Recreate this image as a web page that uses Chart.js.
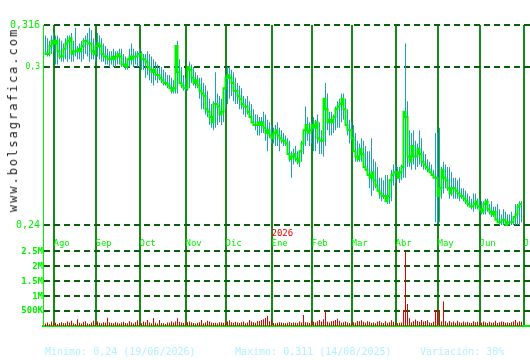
<!DOCTYPE html>
<html>
<head>
<meta charset="utf-8">
<script src="https://cdn.jsdelivr.net/npm/chart.js@4.4.1/dist/chart.umd.min.js"></script>
<style>
  body { margin: 0; background: #fff; }
  #wrap { position: relative; width: 530px; height: 360px; overflow: hidden; background: #fff; }
  #chart { position: absolute; left: 0; top: 0; }
  .foot { position: absolute; top: 346px; font: 10px 'DejaVu Sans Mono', monospace; color: #b4f0ff; white-space: pre; }
  #web { position: absolute; left: 13px; top: 120px; transform: translate(-50%, -50%) rotate(-90deg);
         font: 12px 'DejaVu Sans Mono', monospace; letter-spacing: 2px; color: #222; white-space: nowrap; }
</style>
</head>
<body>
<div id="wrap">
  <canvas id="chart" width="530" height="360"></canvas>
  <div id="web">www.bolsagrafica.com</div>
  <div class="foot" style="left:45px">Minimo: 0,24 (19/06/2026)</div>
  <div class="foot" style="left:235px">Maximo: 0,311 (14/08/2025)</div>
  <div class="foot" style="left:420px">Variación: 30%</div>
</div>
<script>
// month labels and the trading-day index where each month starts
const monthLabels = ['Ago', 'Sep', 'Oct', 'Nov', 'Dic', 'Ene', 'Feb', 'Mar', 'Abr', 'May', 'Jun', 'Jul'];
const monthStart = [4, 25, 47, 70, 90, 113, 133, 153, 175, 196, 217, 239];
const priceTicks = [0.316, 0.3, 0.24];
const volumeTicks = [500, 1000, 1500, 2000, 2500];
const volumeTickLabels = ['500K', '1M', '1.5M', '2M', '2.5M'];

// daily prices (EUR), 28/07/2025 .. 30/06/2026
const closes = [
  0.306, 0.305, 0.305, 0.308, 0.310, 0.309, 0.310, 0.306, 0.304, 0.304,
  0.307, 0.309, 0.310, 0.311, 0.305, 0.306, 0.306, 0.307, 0.306, 0.308,
  0.310, 0.310, 0.309, 0.309, 0.306, 0.305, 0.308, 0.309, 0.308, 0.305,
  0.304, 0.304, 0.303, 0.303, 0.304, 0.303, 0.304, 0.305, 0.304, 0.301,
  0.301, 0.300, 0.303, 0.304, 0.303, 0.304, 0.304, 0.305, 0.305, 0.303,
  0.303, 0.302, 0.300, 0.299, 0.298, 0.299, 0.297, 0.297, 0.296, 0.295,
  0.294, 0.294, 0.293, 0.292, 0.291, 0.292, 0.308, 0.298, 0.294, 0.293,
  0.292, 0.292, 0.300, 0.299, 0.296, 0.294, 0.295, 0.293, 0.291, 0.290,
  0.289, 0.284, 0.283, 0.281, 0.279, 0.286, 0.286, 0.285, 0.282, 0.283,
  0.292, 0.296, 0.297, 0.296, 0.294, 0.291, 0.291, 0.289, 0.288, 0.286,
  0.285, 0.285, 0.283, 0.281, 0.279, 0.278, 0.278, 0.279, 0.278, 0.279,
  0.277, 0.275, 0.276, 0.274, 0.273, 0.275, 0.276, 0.274, 0.273, 0.272,
  0.272, 0.271, 0.267, 0.265, 0.266, 0.267, 0.265, 0.264, 0.268, 0.271,
  0.276, 0.278, 0.275, 0.276, 0.278, 0.277, 0.279, 0.273, 0.272, 0.272,
  0.288, 0.284, 0.279, 0.280, 0.279, 0.281, 0.284, 0.285, 0.286, 0.288,
  0.284, 0.278, 0.276, 0.276, 0.273, 0.268, 0.266, 0.265, 0.269, 0.267,
  0.262, 0.261, 0.259, 0.258, 0.260, 0.257, 0.255, 0.253, 0.252, 0.251,
  0.251, 0.249, 0.251, 0.257, 0.259, 0.260, 0.260, 0.258, 0.260, 0.262,
  0.283, 0.281, 0.266, 0.264, 0.270, 0.266, 0.266, 0.269, 0.267, 0.264,
  0.263, 0.262, 0.261, 0.260, 0.259, 0.258, 0.258, 0.251, 0.254, 0.261,
  0.258, 0.257, 0.254, 0.252, 0.254, 0.254, 0.253, 0.252, 0.251, 0.251,
  0.250, 0.249, 0.248, 0.247, 0.247, 0.248, 0.249, 0.247, 0.246, 0.245,
  0.248, 0.249, 0.246, 0.245, 0.244, 0.245, 0.242, 0.241, 0.241, 0.242,
  0.242, 0.240, 0.241, 0.241, 0.241, 0.243, 0.244, 0.247, 0.248
];
const highs = [
  0.312, 0.311, 0.310, 0.312, 0.313, 0.312, 0.312, 0.311, 0.310, 0.309,
  0.311, 0.312, 0.312, 0.313, 0.310, 0.315, 0.308, 0.309, 0.310, 0.311,
  0.312, 0.313, 0.315, 0.314, 0.311, 0.310, 0.313, 0.312, 0.311, 0.309,
  0.308, 0.307, 0.306, 0.306, 0.307, 0.306, 0.306, 0.307, 0.307, 0.305,
  0.304, 0.303, 0.307, 0.309, 0.307, 0.306, 0.306, 0.307, 0.306, 0.305,
  0.305, 0.306, 0.305, 0.304, 0.303, 0.302, 0.301, 0.300, 0.300, 0.299,
  0.298, 0.297, 0.297, 0.296, 0.295, 0.296, 0.310, 0.303, 0.300, 0.297,
  0.296, 0.297, 0.302, 0.301, 0.300, 0.298, 0.297, 0.296, 0.296, 0.294,
  0.293, 0.291, 0.288, 0.286, 0.287, 0.298, 0.290, 0.289, 0.288, 0.290,
  0.297, 0.300, 0.300, 0.299, 0.298, 0.296, 0.294, 0.293, 0.292, 0.289,
  0.288, 0.289, 0.287, 0.286, 0.284, 0.282, 0.282, 0.281, 0.281, 0.283,
  0.282, 0.280, 0.279, 0.278, 0.277, 0.278, 0.279, 0.277, 0.276, 0.275,
  0.274, 0.273, 0.272, 0.268, 0.269, 0.270, 0.268, 0.267, 0.272, 0.274,
  0.285, 0.281, 0.279, 0.279, 0.281, 0.280, 0.282, 0.279, 0.276, 0.280,
  0.294, 0.290, 0.283, 0.283, 0.282, 0.285, 0.287, 0.288, 0.290, 0.290,
  0.288, 0.284, 0.280, 0.279, 0.278, 0.275, 0.272, 0.271, 0.273, 0.272,
  0.270, 0.268, 0.268, 0.273, 0.265, 0.264, 0.262, 0.258, 0.258, 0.257,
  0.259, 0.259, 0.257, 0.261, 0.263, 0.263, 0.262, 0.262, 0.263, 0.264,
  0.309, 0.287, 0.276, 0.275, 0.276, 0.272, 0.271, 0.276, 0.273, 0.268,
  0.267, 0.265, 0.264, 0.263, 0.261, 0.275, 0.275, 0.277, 0.262, 0.264,
  0.263, 0.262, 0.262, 0.260, 0.258, 0.258, 0.257, 0.258, 0.254, 0.254,
  0.253, 0.252, 0.251, 0.250, 0.252, 0.252, 0.250, 0.250, 0.249, 0.249,
  0.250, 0.250, 0.248, 0.249, 0.247, 0.247, 0.248, 0.246, 0.244, 0.246,
  0.245, 0.244, 0.244, 0.245, 0.243, 0.248, 0.248, 0.249, 0.249
];
const lows = [
  0.305, 0.304, 0.304, 0.305, 0.306, 0.301, 0.301, 0.303, 0.302, 0.302,
  0.303, 0.302, 0.303, 0.302, 0.302, 0.304, 0.303, 0.303, 0.302, 0.303,
  0.305, 0.304, 0.302, 0.303, 0.303, 0.302, 0.304, 0.303, 0.302, 0.302,
  0.301, 0.301, 0.300, 0.301, 0.300, 0.300, 0.301, 0.301, 0.300, 0.300,
  0.299, 0.299, 0.300, 0.301, 0.300, 0.301, 0.300, 0.300, 0.299, 0.299,
  0.296, 0.297, 0.295, 0.294, 0.293, 0.295, 0.294, 0.295, 0.294, 0.293,
  0.293, 0.292, 0.292, 0.290, 0.290, 0.290, 0.290, 0.294, 0.292, 0.291,
  0.291, 0.291, 0.292, 0.294, 0.293, 0.292, 0.292, 0.288, 0.284, 0.284,
  0.282, 0.281, 0.278, 0.277, 0.276, 0.277, 0.278, 0.279, 0.278, 0.279,
  0.284, 0.286, 0.288, 0.289, 0.287, 0.286, 0.286, 0.284, 0.284, 0.282,
  0.281, 0.282, 0.281, 0.280, 0.279, 0.276, 0.274, 0.274, 0.275, 0.275,
  0.272, 0.268, 0.273, 0.271, 0.271, 0.270, 0.270, 0.268, 0.271, 0.270,
  0.270, 0.269, 0.264, 0.258, 0.263, 0.264, 0.263, 0.262, 0.264, 0.267,
  0.270, 0.272, 0.270, 0.271, 0.268, 0.268, 0.271, 0.267, 0.267, 0.266,
  0.270, 0.276, 0.274, 0.274, 0.275, 0.276, 0.277, 0.277, 0.279, 0.280,
  0.278, 0.274, 0.271, 0.272, 0.268, 0.264, 0.264, 0.264, 0.264, 0.262,
  0.261, 0.259, 0.254, 0.251, 0.253, 0.254, 0.254, 0.250, 0.249, 0.250,
  0.249, 0.248, 0.248, 0.249, 0.255, 0.256, 0.258, 0.256, 0.257, 0.258,
  0.258, 0.262, 0.262, 0.261, 0.263, 0.261, 0.262, 0.263, 0.262, 0.261,
  0.261, 0.260, 0.260, 0.259, 0.258, 0.241, 0.241, 0.241, 0.250, 0.252,
  0.254, 0.253, 0.250, 0.251, 0.250, 0.250, 0.250, 0.249, 0.250, 0.249,
  0.248, 0.247, 0.247, 0.246, 0.245, 0.246, 0.246, 0.245, 0.244, 0.244,
  0.244, 0.245, 0.244, 0.243, 0.243, 0.243, 0.241, 0.240, 0.240, 0.240,
  0.240, 0.240, 0.240, 0.240, 0.240, 0.240, 0.240, 0.240, 0.241
];
// daily volume, thousands of shares
const volumes = [
  80, 120, 60, 150, 90, 110, 70, 100, 130, 90,
  100, 150, 120, 180, 90, 70, 230, 110, 80, 140,
  160, 90, 70, 120, 180, 100, 150, 110, 90, 130,
  110, 280, 120, 100, 90, 130, 110, 80, 120, 140,
  100, 90, 160, 120, 80, 130, 190, 110, 90, 150,
  130, 200, 120, 90, 270, 110, 80, 200, 100, 90,
  70, 120, 110, 160, 120, 150, 260, 140, 120, 100,
  90, 130, 150, 120, 100, 80, 110, 130, 200, 90,
  120, 180, 150, 120, 100, 110, 90, 130, 120, 110,
  100, 150, 190, 130, 110, 140, 120, 100, 130, 150,
  90, 120, 200, 150, 130, 110, 160, 170, 200, 230,
  270, 340, 160, 220, 100, 90, 110, 130, 120, 100,
  90, 110, 130, 100, 120, 110, 100, 150, 120, 370,
  130, 120, 100, 180, 140, 120, 160, 200, 150, 230,
  520, 140, 120, 160, 180, 200, 240, 180, 110, 130,
  150, 120, 100, 90, 130, 110, 170, 160, 190, 140,
  110, 160, 140, 100, 120, 90, 150, 170, 120, 100,
  160, 110, 130, 190, 140, 100, 90, 110, 120, 540,
  2500, 740, 260, 130, 160, 220, 170, 140, 200, 150,
  170, 190, 120, 100, 140, 540, 540, 540, 150, 820,
  160, 110, 170, 120, 150, 110, 180, 130, 110, 150,
  120, 140, 110, 100, 160, 130, 140, 120, 110, 150,
  130, 100, 140, 110, 120, 180, 100, 130, 150, 140,
  110, 120, 100, 130, 150, 200, 120, 160, 140
];

const green = '#00f000';
const monoFont = "'DejaVu Sans Mono', monospace";
const labelLevel = 0.23506;   // price level where month labels hang

const yearLabel = {
  id: 'yearLabel',
  afterDraw(chart) {
    const { ctx, scales } = chart;
    const x = scales.x.getPixelForValue(monthStart[5]);
    const y = scales.y.getPixelForValue(labelLevel);
    ctx.save();
    ctx.fillStyle = '#ee0000';
    ctx.font = '9px ' + monoFont;
    ctx.textBaseline = 'bottom';
    ctx.fillText('2026', x, y);
    ctx.restore();
  }
};

const chart = new Chart(document.getElementById('chart'), {
  type: 'bar',
  data: {
    datasets: [
      {
        type: 'line',
        data: closes.map((c, i) => ({ x: i, y: c })),
        yAxisID: 'y',
        borderColor: green,
        borderWidth: 2,
        stepped: 'after',
        pointRadius: 0,
        order: 0
      },
      {
        data: highs.map((h, i) => ({ x: i, y: [lows[i], h] })),
        yAxisID: 'y',
        backgroundColor: '#17a4b4',
        grouped: false,
        barThickness: 1,
        maxBarThickness: 1,
        inflateAmount: 0,
        order: 1
      },
      {
        data: volumes.map((v, i) => ({ x: i, y: v })),
        yAxisID: 'yv',
        backgroundColor: '#dd0000',
        grouped: false,
        barThickness: 1,
        maxBarThickness: 1,
        inflateAmount: 0,
        order: 2
      }
    ]
  },
  options: {
    responsive: false,
    animation: false,
    events: [],
    layout: { padding: { left: 0, top: 25, right: 0, bottom: 34 } },
    plugins: { legend: { display: false }, tooltip: { enabled: false } },
    scales: {
      x: {
        type: 'linear',
        position: { y: labelLevel },
        min: -1.25,
        max: 242.25,
        offset: false,
        afterBuildTicks: s => { s.ticks = monthStart.map(v => ({ value: v })); },
        // the last label may run off the edge, as in the original
        afterFit: s => { s.paddingLeft = 0; s.paddingRight = 0; },
        ticks: {
          callback: (v, i) => monthLabels[i],
          autoSkip: false,
          maxRotation: 0,
          align: 'start',
          padding: 0,
          color: green,
          font: { family: monoFont, size: 9 }
        },
        grid: { color: '#168a16', lineWidth: 2, drawTicks: false, offset: false },
        border: { display: false }
      },
      xb: {
        type: 'linear',
        position: 'bottom',
        ticks: { display: false },
        grid: { display: false, drawTicks: false },
        border: { color: green, width: 2 }
      },
      yv: {
        type: 'linear',
        position: 'left',
        stack: 'panels',
        stackWeight: 81,
        min: 0,
        max: 2718,
        afterFit: s => { s.width = 43; },
        afterBuildTicks: s => { s.ticks = volumeTicks.map(v => ({ value: v })); },
        ticks: {
          callback: (v, i) => volumeTickLabels[i],
          autoSkip: false,
          color: green,
          padding: 0,
          font: { family: monoFont, size: 9, weight: 'bold' }
        },
        grid: { color: '#0b5e0b', lineWidth: 2, drawTicks: false },
        border: { color: green, width: 1, dash: [6, 4] }
      },
      y: {
        type: 'linear',
        position: 'left',
        stack: 'panels',
        stackWeight: 220,
        min: 0.2324,
        max: 0.316,
        afterFit: s => { s.width = 43; },
        afterBuildTicks: s => { s.ticks = priceTicks.map(v => ({ value: v })); },
        ticks: {
          callback: v => String(v).replace('.', ','),
          autoSkip: false,
          color: green,
          padding: 3,
          font: c => ({ family: monoFont, size: c.tick && c.tick.value === 0.3 ? 8 : 10 })
        },
        grid: { color: '#0b5e0b', lineWidth: 2, drawTicks: false },
        border: { color: green, width: 1, dash: [6, 4] }
      }
    }
  },
  plugins: [yearLabel]
});
</script>
</body>
</html>
